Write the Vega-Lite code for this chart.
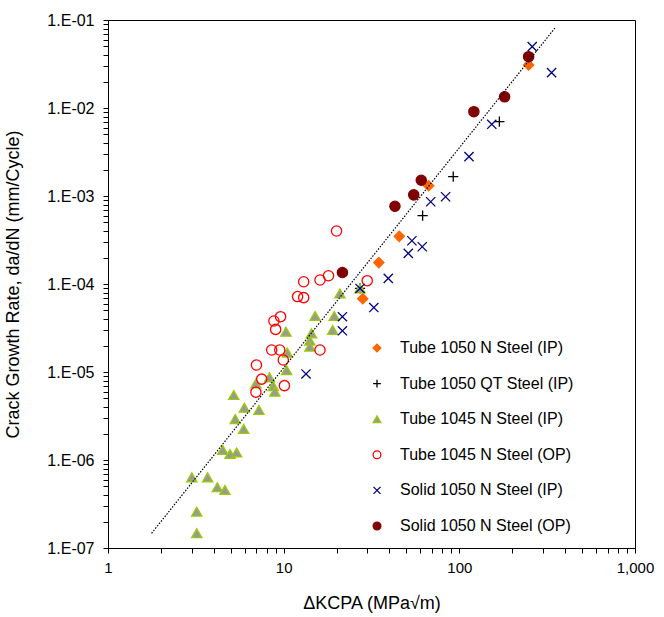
{
  "$schema": "https://vega.github.io/schema/vega-lite/v6.json",
  "width": 527,
  "height": 528,
  "autosize": {"type": "none"},
  "padding": {"left": 108, "top": 20, "right": 29, "bottom": 69},
  "background": "white",
  "config": {
    "font": "Liberation Sans",
    "view": {"stroke": "black", "strokeWidth": 1},
    "axis": {"grid": false, "ticks": true, "tickWidth": 1, "domainColor": "black", "tickColor": "black", "labelColor": "black", "titleColor": "black", "labelFont": "Liberation Sans", "titleFont": "Liberation Sans", "titleFontWeight": "normal", "labelFlush": false, "labelOverlap": false, "tickSize": 5}
  },
  "layer": [
    {
      "data": {"values": [
        {"series": "Tube 1050 N Steel (IP)", "dk": 248, "rate": 0.0308},
        {"series": "Tube 1050 N Steel (IP)", "dk": 66.9, "rate": 0.00131},
        {"series": "Tube 1050 N Steel (IP)", "dk": 45.5, "rate": 0.000348},
        {"series": "Tube 1050 N Steel (IP)", "dk": 34.8, "rate": 0.000175},
        {"series": "Tube 1050 N Steel (IP)", "dk": 28.2, "rate": 0.000068},
        {"series": "Tube 1050 QT Steel (IP)", "dk": 169, "rate": 0.0070},
        {"series": "Tube 1050 QT Steel (IP)", "dk": 92.3, "rate": 0.00166},
        {"series": "Tube 1050 QT Steel (IP)", "dk": 61.8, "rate": 0.000597},
        {"series": "Tube 1050 QT Steel (IP)", "dk": 27.2, "rate": 0.000089},
        {"series": "Tube 1045 N Steel (IP)", "dk": 20.9, "rate": 0.000078},
        {"series": "Tube 1045 N Steel (IP)", "dk": 27.2, "rate": 0.000089},
        {"series": "Tube 1045 N Steel (IP)", "dk": 15.1, "rate": 0.0000433},
        {"series": "Tube 1045 N Steel (IP)", "dk": 19.4, "rate": 0.0000433},
        {"series": "Tube 1045 N Steel (IP)", "dk": 19.0, "rate": 0.000030},
        {"series": "Tube 1045 N Steel (IP)", "dk": 14.4, "rate": 0.0000275},
        {"series": "Tube 1045 N Steel (IP)", "dk": 14.1, "rate": 0.0000227},
        {"series": "Tube 1045 N Steel (IP)", "dk": 14.1, "rate": 0.0000194},
        {"series": "Tube 1045 N Steel (IP)", "dk": 10.5, "rate": 0.0000166},
        {"series": "Tube 1045 N Steel (IP)", "dk": 10.3, "rate": 0.0000287},
        {"series": "Tube 1045 N Steel (IP)", "dk": 10.4, "rate": 0.0000105},
        {"series": "Tube 1045 N Steel (IP)", "dk": 8.3, "rate": 0.0000087},
        {"series": "Tube 1045 N Steel (IP)", "dk": 6.95, "rate": 0.0000074},
        {"series": "Tube 1045 N Steel (IP)", "dk": 8.73, "rate": 0.0000069},
        {"series": "Tube 1045 N Steel (IP)", "dk": 8.9, "rate": 0.00000597},
        {"series": "Tube 1045 N Steel (IP)", "dk": 5.2, "rate": 0.00000548},
        {"series": "Tube 1045 N Steel (IP)", "dk": 5.97, "rate": 0.00000393},
        {"series": "Tube 1045 N Steel (IP)", "dk": 7.23, "rate": 0.0000037},
        {"series": "Tube 1045 N Steel (IP)", "dk": 5.3, "rate": 0.00000292},
        {"series": "Tube 1045 N Steel (IP)", "dk": 5.92, "rate": 0.00000225},
        {"series": "Tube 1045 N Steel (IP)", "dk": 4.5, "rate": 0.0000013},
        {"series": "Tube 1045 N Steel (IP)", "dk": 4.95, "rate": 0.00000117},
        {"series": "Tube 1045 N Steel (IP)", "dk": 5.4, "rate": 0.00000122},
        {"series": "Tube 1045 N Steel (IP)", "dk": 3.0, "rate": 0.000000636},
        {"series": "Tube 1045 N Steel (IP)", "dk": 3.69, "rate": 0.000000636},
        {"series": "Tube 1045 N Steel (IP)", "dk": 4.19, "rate": 0.00000049},
        {"series": "Tube 1045 N Steel (IP)", "dk": 4.63, "rate": 0.000000456},
        {"series": "Tube 1045 N Steel (IP)", "dk": 3.2, "rate": 0.000000259},
        {"series": "Tube 1045 N Steel (IP)", "dk": 3.2, "rate": 0.000000147},
        {"series": "Tube 1045 N Steel (OP)", "dk": 20.0, "rate": 0.0004},
        {"series": "Tube 1045 N Steel (OP)", "dk": 18.0, "rate": 0.000124},
        {"series": "Tube 1045 N Steel (OP)", "dk": 16.1, "rate": 0.000111},
        {"series": "Tube 1045 N Steel (OP)", "dk": 13.0, "rate": 0.000106},
        {"series": "Tube 1045 N Steel (OP)", "dk": 29.9, "rate": 0.000109},
        {"series": "Tube 1045 N Steel (OP)", "dk": 12.0, "rate": 0.000072},
        {"series": "Tube 1045 N Steel (OP)", "dk": 13.0, "rate": 0.000070},
        {"series": "Tube 1045 N Steel (OP)", "dk": 9.6, "rate": 0.0000425},
        {"series": "Tube 1045 N Steel (OP)", "dk": 8.8, "rate": 0.000038},
        {"series": "Tube 1045 N Steel (OP)", "dk": 9.0, "rate": 0.0000305},
        {"series": "Tube 1045 N Steel (OP)", "dk": 8.55, "rate": 0.0000178},
        {"series": "Tube 1045 N Steel (OP)", "dk": 9.5, "rate": 0.0000178},
        {"series": "Tube 1045 N Steel (OP)", "dk": 16.1, "rate": 0.0000178},
        {"series": "Tube 1045 N Steel (OP)", "dk": 9.95, "rate": 0.0000137},
        {"series": "Tube 1045 N Steel (OP)", "dk": 7.0, "rate": 0.000012},
        {"series": "Tube 1045 N Steel (OP)", "dk": 7.5, "rate": 0.0000083},
        {"series": "Tube 1045 N Steel (OP)", "dk": 10.1, "rate": 0.000007},
        {"series": "Tube 1045 N Steel (OP)", "dk": 6.95, "rate": 0.0000059},
        {"series": "Solid 1050 N Steel (IP)", "dk": 260, "rate": 0.0498},
        {"series": "Solid 1050 N Steel (IP)", "dk": 335, "rate": 0.0252},
        {"series": "Solid 1050 N Steel (IP)", "dk": 153, "rate": 0.00653},
        {"series": "Solid 1050 N Steel (IP)", "dk": 113.5, "rate": 0.0028},
        {"series": "Solid 1050 N Steel (IP)", "dk": 83.5, "rate": 0.00098},
        {"series": "Solid 1050 N Steel (IP)", "dk": 68.7, "rate": 0.00086},
        {"series": "Solid 1050 N Steel (IP)", "dk": 53.7, "rate": 0.00031},
        {"series": "Solid 1050 N Steel (IP)", "dk": 61.5, "rate": 0.000265},
        {"series": "Solid 1050 N Steel (IP)", "dk": 51.2, "rate": 0.000223},
        {"series": "Solid 1050 N Steel (IP)", "dk": 39.4, "rate": 0.000116},
        {"series": "Solid 1050 N Steel (IP)", "dk": 32.6, "rate": 0.000054},
        {"series": "Solid 1050 N Steel (IP)", "dk": 27.2, "rate": 0.000089},
        {"series": "Solid 1050 N Steel (IP)", "dk": 21.6, "rate": 0.0000425},
        {"series": "Solid 1050 N Steel (IP)", "dk": 21.6, "rate": 0.0000294},
        {"series": "Solid 1050 N Steel (IP)", "dk": 13.4, "rate": 0.0000095},
        {"series": "Solid 1050 N Steel (OP)", "dk": 248, "rate": 0.0383},
        {"series": "Solid 1050 N Steel (OP)", "dk": 181, "rate": 0.0134},
        {"series": "Solid 1050 N Steel (OP)", "dk": 121, "rate": 0.00908},
        {"series": "Solid 1050 N Steel (OP)", "dk": 60.7, "rate": 0.00151},
        {"series": "Solid 1050 N Steel (OP)", "dk": 55, "rate": 0.00103},
        {"series": "Solid 1050 N Steel (OP)", "dk": 43, "rate": 0.000764},
        {"series": "Solid 1050 N Steel (OP)", "dk": 21.6, "rate": 0.000135}
      ]},
      "mark": {"type": "point", "opacity": 1, "strokeWidth": 1.3, "size": 105},
      "encoding": {
        "x": {
          "field": "dk", "type": "quantitative",
          "scale": {"type": "log", "domain": [1, 1000], "nice": false},
          "axis": {
            "title": "ΔKCPA (MPa√m)",
            "titleFontSize": 18, "titlePadding": 19,
            "labelFontSize": 15, "labelPadding": 7,
            "values": [1,2,3,4,5,6,7,8,9,10,20,30,40,50,60,70,80,90,100,200,300,400,500,600,700,800,900,1000],
            "labelExpr": "indexof([1,10,100,1000], datum.value) >= 0 ? format(datum.value, ',') : ''"
          }
        },
        "y": {
          "field": "rate", "type": "quantitative",
          "scale": {"type": "log", "domain": [1e-7, 0.1], "nice": false},
          "axis": {
            "title": "Crack Growth Rate, da/dN (mm/Cycle)",
            "titleFontSize": 18, "titlePadding": 24,
            "labelFontSize": 16, "labelPadding": 9,
            "values": [1e-7,2e-7,3e-7,4e-7,5e-7,6e-7,7e-7,8e-7,9e-7,1e-6,2e-6,3e-6,4e-6,5e-6,6e-6,7e-6,8e-6,9e-6,1e-5,2e-5,3e-5,4e-5,5e-5,6e-5,7e-5,8e-5,9e-5,1e-4,2e-4,3e-4,4e-4,5e-4,6e-4,7e-4,8e-4,9e-4,1e-3,2e-3,3e-3,4e-3,5e-3,6e-3,7e-3,8e-3,9e-3,1e-2,2e-2,3e-2,4e-2,5e-2,6e-2,7e-2,8e-2,9e-2,1e-1],
            "labelExpr": "indexof([1e-7,1e-6,1e-5,1e-4,1e-3,1e-2,1e-1], datum.value) >= 0 ? '1.E-0' + round(-log(datum.value)/LN10) : ''"
          }
        },
        "shape": {
          "field": "series", "type": "nominal",
          "scale": {
            "domain": ["Tube 1050 N Steel (IP)", "Tube 1050 QT Steel (IP)", "Tube 1045 N Steel (IP)", "Tube 1045 N Steel (OP)", "Solid 1050 N Steel (IP)", "Solid 1050 N Steel (OP)"],
            "range": ["diamond", "M-1,0L1,0M0,-1L0,1", "triangle-up", "circle", "M-0.9,-0.9L0.9,0.9M0.9,-0.9L-0.9,0.9", "circle"]
          },
          "legend": {
            "title": null, "orient": "none", "legendX": 261, "legendY": 320,
            "labelFontSize": 16, "labelOffset": 15, "rowPadding": 19.6, "padding": 0,
            "symbolSize": 60, "symbolStrokeWidth": 1.3, "labelColor": "black", "labelLimit": 300
          }
        },
        "fill": {
          "field": "series", "type": "nominal",
          "scale": {
            "domain": ["Tube 1050 N Steel (IP)", "Tube 1050 QT Steel (IP)", "Tube 1045 N Steel (IP)", "Tube 1045 N Steel (OP)", "Solid 1050 N Steel (IP)", "Solid 1050 N Steel (OP)"],
            "range": ["#FF6600", "transparent", "#999999", "transparent", "transparent", "#800000"]
          },
          "legend": null
        },
        "stroke": {
          "field": "series", "type": "nominal",
          "scale": {
            "domain": ["Tube 1050 N Steel (IP)", "Tube 1050 QT Steel (IP)", "Tube 1045 N Steel (IP)", "Tube 1045 N Steel (OP)", "Solid 1050 N Steel (IP)", "Solid 1050 N Steel (OP)"],
            "range": ["#FF6600", "#000000", "#99CC00", "#FF0000", "#000080", "#800000"]
          },
          "legend": null
        }
      }
    },
    {
      "data": {"values": [
        {"dk": 1.77, "rate": 1.47e-7},
        {"dk": 350, "rate": 0.081}
      ]},
      "mark": {"type": "line", "color": "black", "strokeWidth": 1.2, "strokeDash": [1.5, 1.5]},
      "encoding": {
        "x": {"field": "dk", "type": "quantitative"},
        "y": {"field": "rate", "type": "quantitative"}
      }
    }
  ]
}
